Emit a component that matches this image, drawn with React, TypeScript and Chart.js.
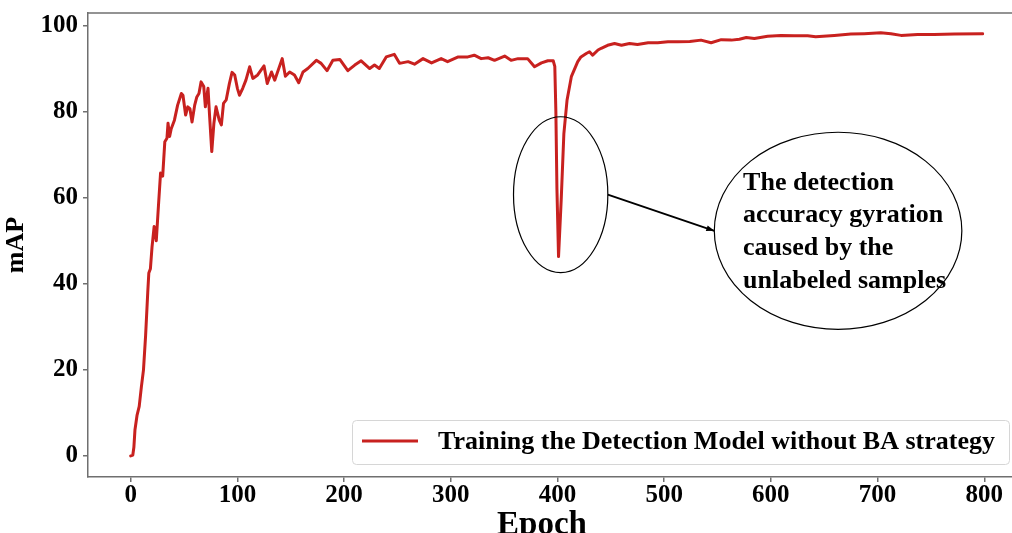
import React, { useEffect, useRef } from 'react';
import { Chart, registerables } from 'chart.js';

Chart.register(...registerables);

// ---- data ----
const epochs = [
  0, 2, 3, 4, 6, 8, 10, 12, 14, 16, 17, 18.5, 20, 22, 24, 26, 28, 30, 31, 32, 34, 35, 36.5, 38, 41, 44, 47.5, 49,
  51.5, 53.5, 55.5, 57.5, 60, 62, 64, 66, 68.5, 70, 72.5, 74, 76, 78, 80, 83, 85, 87, 89.5, 92.5, 95, 97.5, 100,
  102, 105, 108, 111.5, 114.5, 119, 125, 128, 132, 135, 142, 145, 149, 153.5, 157.5, 161.5, 166, 174, 178.5, 184,
  189.5, 196, 203.5, 210, 216, 224, 228.5, 233, 239.5, 247, 252, 260, 266, 274, 282, 291, 297, 307, 316, 322,
  328.5, 335, 341, 350.5, 356.5, 363, 372, 378.5, 385, 391, 396, 397.5, 398.5, 399.5, 401, 403.5, 406, 409, 413,
  419, 422, 427, 430, 433, 438, 441, 447, 453.5, 460, 467.5, 475, 485, 494, 503.5, 513, 524, 534.5, 544, 553.5,
  563, 570.5, 577, 584.5, 597, 609.5, 622, 634.5, 642, 659.5, 675, 687.5, 703, 712.5, 722, 737.5, 753, 772, 798.5,
];
const mAP = [
  0, 0.2, 2, 6, 9.5, 11.5, 16, 20, 28, 38, 42.5, 43.5, 48.5, 53.3, 50, 58, 65.7, 65, 69, 73, 73.8, 77.3, 74.2, 76,
  78, 81.5, 84.2, 83.8, 79.2, 81.1, 80.7, 77.6, 81.5, 83.4, 84.2, 86.9, 85.8, 81.1, 85.4, 78.8, 70.7, 77.3, 81.1,
  78, 76.9, 81.9, 82.7, 86.5, 89.1, 88.5, 85.4, 83.8, 85.4, 87.3, 90.4, 87.7, 88.5, 90.6, 86.5, 89.2, 87.3, 92.3,
  88.2, 89.2, 88.5, 86.7, 89.2, 90, 91.9, 91.2, 89.5, 91.9, 92.1, 89.5, 90.8, 91.8, 90, 90.8, 90, 92.7, 93.3, 91.2,
  91.6, 91, 92.3, 91.3, 92.3, 91.6, 92.7, 92.7, 93.1, 92.3, 92.5, 91.9, 92.9, 91.9, 92.3, 92.3, 90.4, 91.3, 91.8,
  91.8, 90.5, 80, 62, 46.3, 59.5, 74.9, 82.7, 88.1, 91.6, 92.7, 93.5, 93.9, 93.1, 94.3, 94.7, 95.4, 95.8, 95.4,
  95.8, 95.6, 96, 96, 96.2, 96.2, 96.3, 96.6, 96, 96.7, 96.6, 96.8, 97.2, 97, 97.5, 97.7, 97.6, 97.6, 97.4, 97.7,
  98, 98.1, 98.3, 98.1, 97.7, 97.9, 97.9, 98, 98.1,
];
const xTicks = [0, 100, 200, 300, 400, 500, 600, 700, 800];
const yTicks = [0, 20, 40, 60, 80, 100];
const xTitle = 'Epoch';
const yTitle = 'mAP';
const seriesLabel = 'Training the Detection Model without BA strategy';
const noteLines = ['The detection', 'accuracy gyration', 'caused by the', 'unlabeled samples'];

const FONT = '"Liberation Serif", "Times New Roman", Times, serif';
const RED = '#c8211f';
const SPINE = '#6f6f6f';

const topSpine = {
  id: 'topSpine',
  afterDraw(chart: any) {
    const { ctx, chartArea } = chart;
    ctx.save();
    ctx.strokeStyle = SPINE;
    ctx.lineWidth = 1.5;
    ctx.beginPath();
    ctx.moveTo(chartArea.left, chartArea.top);
    ctx.lineTo(chartArea.right + 2, chartArea.top);
    ctx.stroke();
    ctx.restore();
  },
};

const xAxisTitle = {
  id: 'xAxisTitle',
  afterDraw(chart: any) {
    const { ctx, chartArea } = chart;
    ctx.save();
    ctx.fillStyle = '#000';
    ctx.font = `bold 33px ${FONT}`;
    ctx.textAlign = 'center';
    ctx.textBaseline = 'alphabetic';
    ctx.fillText(xTitle, (chartArea.left + chartArea.right) / 2 - 8, chartArea.bottom + 57);
    ctx.restore();
  },
};

const annotations = {
  id: 'annotations',
  afterDatasetsDraw(chart: any) {
    const { ctx, scales } = chart;
    const xs = scales.x;
    const ys = scales.y;
    const px = (v: number) => xs.getPixelForValue(v);
    const py = (v: number) => ys.getPixelForValue(v);
    ctx.save();
    ctx.strokeStyle = '#000';
    ctx.lineWidth = 1.2;
    // small ellipse round the dip
    const sx = px(403), sy = py(60.7);
    const srx = px(403 + 44.2) - sx, sry = sy - py(60.7 + 18.1);
    ctx.beginPath();
    ctx.ellipse(sx, sy, srx, sry, 0, 0, Math.PI * 2);
    ctx.stroke();
    // large ellipse with the note
    const lx = px(663), ly = py(52.3);
    const lrx = px(663 + 116) - lx, lry = ly - py(52.3 + 22.9);
    ctx.beginPath();
    ctx.ellipse(lx, ly, lrx, lry, 0, 0, Math.PI * 2);
    ctx.stroke();
    // arrow
    const ax0 = sx + srx, ay0 = sy;
    const ax1 = lx - lrx, ay1 = ly;
    ctx.lineWidth = 1.8;
    ctx.beginPath();
    ctx.moveTo(ax0, ay0);
    ctx.lineTo(ax1, ay1);
    ctx.stroke();
    const ang = Math.atan2(ay1 - ay0, ax1 - ax0);
    const hl = 8, hw = 3;
    ctx.fillStyle = '#000';
    ctx.beginPath();
    ctx.moveTo(ax1, ay1);
    ctx.lineTo(ax1 - hl * Math.cos(ang) + hw * Math.sin(ang), ay1 - hl * Math.sin(ang) - hw * Math.cos(ang));
    ctx.lineTo(ax1 - hl * Math.cos(ang) - hw * Math.sin(ang), ay1 - hl * Math.sin(ang) + hw * Math.cos(ang));
    ctx.closePath();
    ctx.fill();
    // note text
    ctx.font = `bold 26px ${FONT}`;
    ctx.textAlign = 'left';
    ctx.textBaseline = 'middle';
    const step = 32.7;
    const tx = lx - 95;
    noteLines.forEach((t, i) => {
      ctx.fillText(t, tx, ly - 48 + i * step);
    });
    ctx.restore();
  },
};

const boxLegend = {
  id: 'boxLegend',
  afterDraw(chart: any) {
    const { ctx, chartArea } = chart;
    const ds = chart.data.datasets[0];
    const right = chartArea.right - 3;
    const bottom = chartArea.bottom - 13;
    const w = 657, h = 44;
    const left = right - w, top = bottom - h;
    ctx.save();
    ctx.fillStyle = 'rgba(255,255,255,0.85)';
    ctx.strokeStyle = '#d6d6d6';
    ctx.lineWidth = 1;
    ctx.beginPath();
    (ctx as any).roundRect(left + 0.5, top + 0.5, w, h, 4);
    ctx.fill();
    ctx.stroke();
    const cy = top + 21;
    ctx.strokeStyle = ds.borderColor;
    ctx.lineWidth = 3;
    ctx.beginPath();
    ctx.moveTo(left + 10, cy);
    ctx.lineTo(left + 66, cy);
    ctx.stroke();
    ctx.fillStyle = '#000';
    ctx.font = `bold 26px ${FONT}`;
    ctx.textAlign = 'left';
    ctx.textBaseline = 'middle';
    ctx.fillText(ds.label, left + 86, cy + 1);
    ctx.restore();
  },
};

export default function App() {
  const ref = useRef<HTMLCanvasElement | null>(null);
  useEffect(() => {
    if (!ref.current) return;
    const chart = new Chart(ref.current, {
      type: 'line',
      data: {
        datasets: [
          {
            label: seriesLabel,
            data: epochs.map((e, i) => ({ x: e, y: mAP[i] })),
            borderColor: RED,
            backgroundColor: RED,
            borderWidth: 3,
            pointRadius: 0,
            tension: 0,
            borderJoinStyle: 'round',
            borderCapStyle: 'round',
          },
        ],
      },
      options: {
        animation: false,
        responsive: false,
        devicePixelRatio: 1,
        layout: { padding: { top: 13, right: 0, left: 0, bottom: 0 } },
        plugins: { legend: { display: false }, tooltip: { enabled: false } },
        scales: {
          x: {
            type: 'linear',
            min: -40,
            max: 826,
            afterFit: (s: any) => { s.height = 71; },
            afterBuildTicks: (s: any) => { s.ticks = xTicks.map((v) => ({ value: v })); },
            grid: { display: true, drawOnChartArea: false, drawTicks: true, tickLength: 5, tickColor: SPINE, lineWidth: 1.5 },
            border: { display: true, color: SPINE, width: 1.5 },
            ticks: {
              color: '#000',
              padding: 1,
              maxRotation: 0,
              autoSkip: false,
              font: { family: FONT, size: 25, weight: 'bold', lineHeight: 1 },
            },
            title: { display: false },
          },
          y: {
            type: 'linear',
            min: -4.9,
            max: 102.9,
            afterFit: (s: any) => { s.width = 88; },
            afterBuildTicks: (s: any) => { s.ticks = yTicks.map((v) => ({ value: v })); },
            grid: { display: true, drawOnChartArea: false, drawTicks: true, tickLength: 5, tickColor: SPINE, lineWidth: 1.5 },
            border: { display: true, color: SPINE, width: 1.5 },
            ticks: {
              color: '#000',
              padding: 5,
              font: { family: FONT, size: 25, weight: 'bold', lineHeight: 0.5 },
            },
            title: {
              display: true,
              text: yTitle,
              color: '#000',
              padding: { top: 1, bottom: 0 },
              font: { family: FONT, size: 26, weight: 'bold', lineHeight: 1.2 },
            },
          },
        },
      },
      plugins: [topSpine, xAxisTitle, annotations, boxLegend],
    } as any);
    return () => chart.destroy();
  }, []);
  return (
    <div style={{ position: 'fixed', left: 0, top: 0, width: 1012, height: 533, overflow: 'hidden', background: '#fff' }}>
      <canvas ref={ref} width={1012} height={548} style={{ display: 'block', width: 1012, height: 548 }} />
    </div>
  );
}
